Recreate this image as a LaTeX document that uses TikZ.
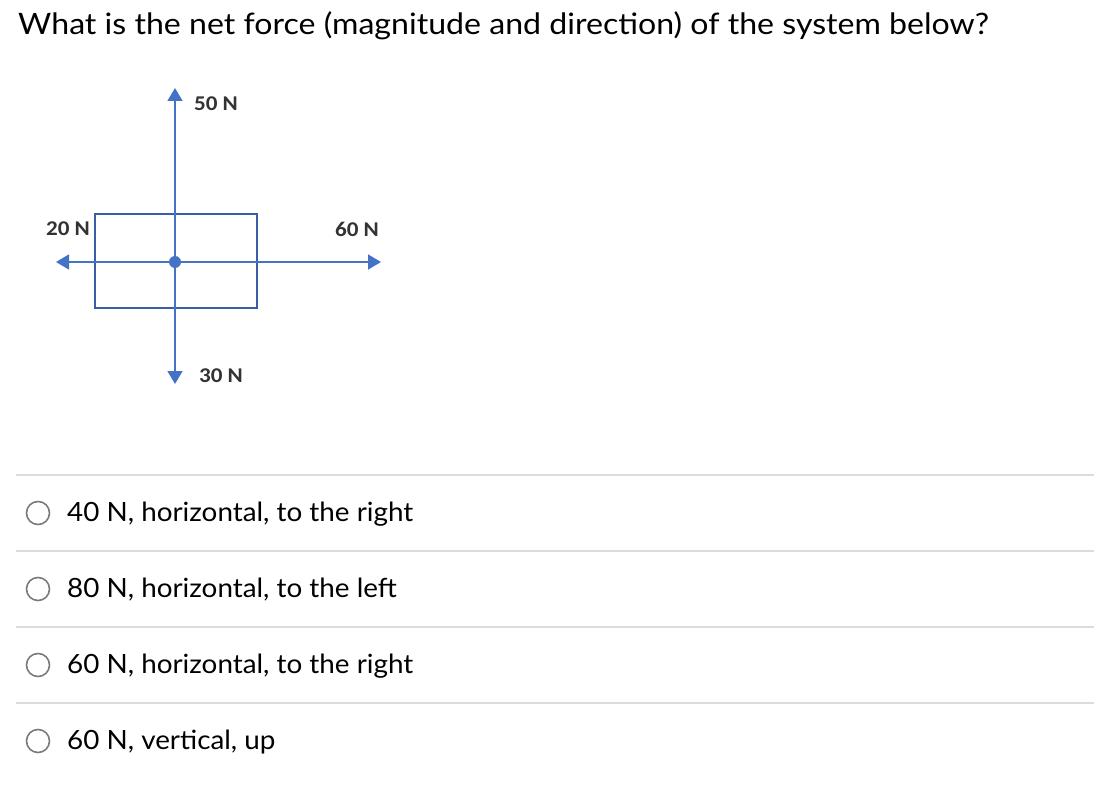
\documentclass[tikz,border=0pt]{standalone}
\usepackage{fontspec}
\setmainfont{Lato}
\newfontfamily\lblfont{Carlito}
\usetikzlibrary{arrows.meta}
\definecolor{fblue}{HTML}{4472C4}
\definecolor{bblue}{HTML}{3A5DA6}
\definecolor{sepgray}{HTML}{DCDCDC}
\definecolor{radgray}{HTML}{7A7A7A}
\definecolor{lblgray}{HTML}{333333}
\tikzset{
  force/.style={fblue, line width=1.5pt, -{Triangle[length=13pt,width=15pt]}},
  lbl/.style={font=\lblfont\bfseries\fontsize{21}{21}\selectfont, text=lblgray, inner sep=0pt, xscale=1.1},
  sep/.style={sepgray, line width=1.5pt},
  radio/.style={circle, draw=radgray, line width=1.6pt, minimum size=23pt, inner sep=0pt},
  opt/.style={font=\fontsize{26.5}{26.5}\selectfont, anchor=base west, inner sep=0pt, xscale=1.05},
}
\begin{document}
\begin{tikzpicture}[x=1pt,y=-1pt]
\useasboundingbox (0,0) rectangle (1094,802);
% title
\node[font=\fontsize{29.5}{29.5}\selectfont, anchor=base west, inner sep=0pt, xscale=1.088] (title) at (18,35) {What is the net force (magnitude and direction) of the system below?};
% diagram
\node[draw=bblue, line width=1.5pt, minimum width=162pt, minimum height=94pt, inner sep=0pt] (box) at (176,261) {};
\coordinate (c) at (175,262);
\coordinate (up) at (175,88);
\coordinate (down) at (175,384);
\coordinate (left) at (56,262);
\coordinate (right) at (381,262);
\draw[force] (c) -- (up);
\draw[force] (c) -- (down);
\draw[force] (c) -- (left);
\draw[force] (c) -- (right);
\fill[fblue] (c) circle (6pt);
\node[lbl] (l50) at (216,104) {50 N};
\node[lbl] (l20) at (68,229) {20 N};
\node[lbl] (l60) at (357,229) {60 N};
\node[lbl] (l30) at (221,376) {30 N};
% separators
\coordinate (s1a) at (16,475); \coordinate (s1b) at (1094,475);
\coordinate (s2a) at (16,551); \coordinate (s2b) at (1094,551);
\coordinate (s3a) at (16,627); \coordinate (s3b) at (1094,627);
\coordinate (s4a) at (16,703); \coordinate (s4b) at (1094,703);
\draw[sep] (s1a) -- (s1b);
\draw[sep] (s2a) -- (s2b);
\draw[sep] (s3a) -- (s3b);
\draw[sep] (s4a) -- (s4b);
% options
\node[radio] (r1) at (38,513) {};
\node[radio] (r2) at (38,589) {};
\node[radio] (r3) at (38,665) {};
\node[radio] (r4) at (38,741) {};
\node[opt] (o1) at (67,521) {40 N, horizontal, to the right};
\node[opt] (o2) at (67,597) {80 N, horizontal, to the left};
\node[opt] (o3) at (67,673) {60 N, horizontal, to the right};
\node[opt] (o4) at (67,749) {60 N, vertical, up};
\end{tikzpicture}
\end{document}
